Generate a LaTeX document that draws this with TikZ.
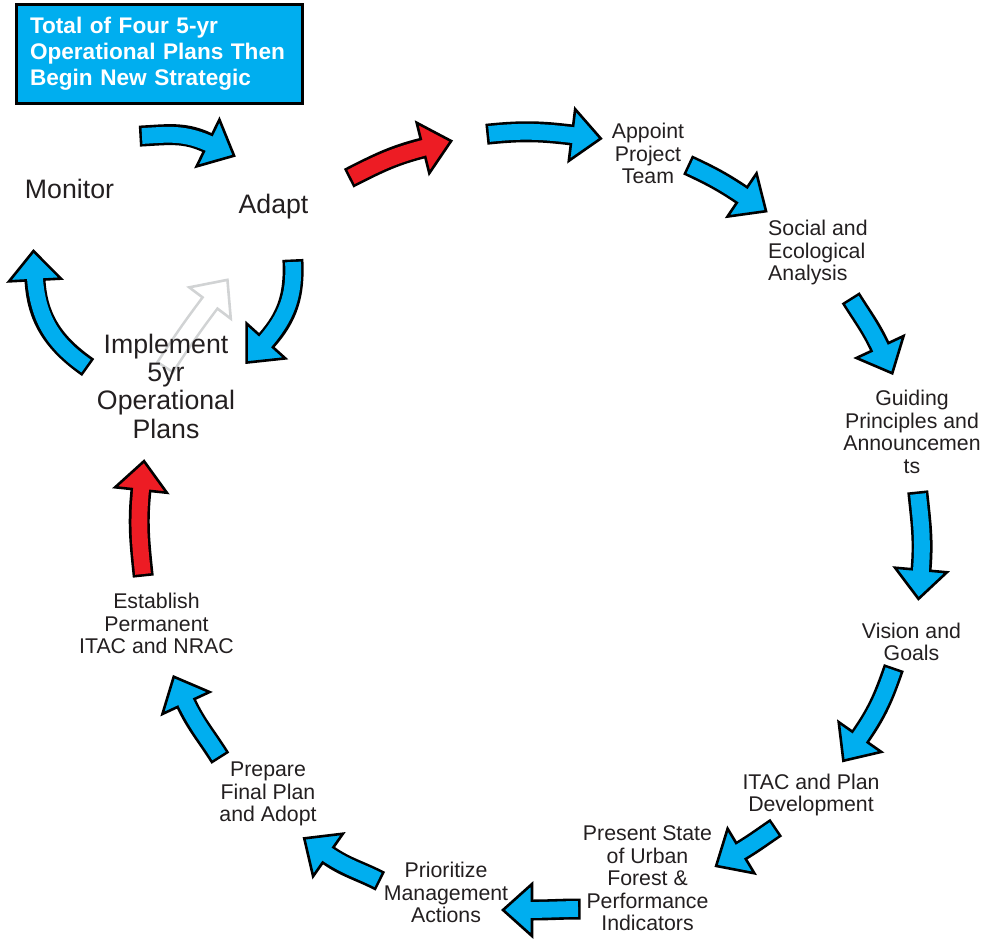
\documentclass[tikz,border=0pt]{standalone}
\usepackage{fontspec}
\setmainfont{Liberation Sans}
\usetikzlibrary{decorations.markings}
\definecolor{arrblue}{HTML}{00AEEF}
\definecolor{arrred}{HTML}{ED1C24}
\definecolor{ghost}{HTML}{D1D3D4}
\definecolor{ink}{HTML}{231F20}
\tikzset{headmark/.style 2 args={decoration={markings,
  mark=at position 1 with {\filldraw[fill=#1,draw=#2,line width=2.6pt,
    line join=miter,shorten <=0pt,shorten >=0pt]
    (0,26) -- (29,0) -- (0,-26) -- cycle;}},postaction={decorate}},
  lbl/.style={text=ink,inner sep=0pt,align=center,
    font=\fontsize{21.3}{22.5}\selectfont},
  biglbl/.style={text=ink,inner sep=0pt,align=center,
    font=\fontsize{26.7}{28.3}\selectfont}}
% block arrow: fill, edge, path
\newcommand{\blockarr}[3]{%
  \draw[#2,line width=21pt,shorten <=-2.6pt,headmark={#1}{#2}] #3;
  \draw[#1,line width=15.8pt,shorten >=-6pt] #3;}

\begin{document}
\begin{tikzpicture}[x=1pt,y=1pt]
  \useasboundingbox (0,0) rectangle (991,-941);
  % arrow ends
  \coordinate (a1) at (142,-136);  \coordinate (b1) at (208,-143);
  \coordinate (a2) at (351,-177);  \coordinate (b2) at (423,-148);
  \coordinate (a3) at (489,-134);  \coordinate (b3) at (572,-135);
  \coordinate (a4) at (690,-166);  \coordinate (b4) at (742,-195);
  \coordinate (a5) at (852,-300);  \coordinate (b5) at (880,-347);
  \coordinate (a6) at (918,-494);  \coordinate (b6) at (921,-570);
  \coordinate (a7) at (893,-670);  \coordinate (b7) at (860,-737);
  \coordinate (a8) at (774,-829);  \coordinate (b8) at (741,-851);
  \coordinate (a9) at (578,-909);  \coordinate (b9) at (532,-910);
  \coordinate (a10) at (378,-880); \coordinate (b10) at (328,-855);
  \coordinate (a11) at (219,-756); \coordinate (b11) at (186,-703);
  \coordinate (a12) at (143,-574); \coordinate (b12) at (141,-490);
  \coordinate (a13) at (86,-366);  \coordinate (b13) at (35,-280);
  \coordinate (a14) at (293,-262); \coordinate (b14) at (266,-341);
  \coordinate (a15) at (166,-366); \coordinate (b15) at (210,-303);

  \blockarr{white}{ghost}{(a15) to[out=57,in=-127] (b15)}
  \blockarr{arrblue}{black}{(a1) to[out=3,in=154] (b1)}
  \blockarr{arrred}{black}{(a2) to[out=27,in=194] (b2)}
  \blockarr{arrblue}{black}{(a3) to[out=6,in=173] (b3)}
  \blockarr{arrblue}{black}{(a4) to[out=-25,in=146] (b4)}
  \blockarr{arrblue}{black}{(a5) to[out=-58,in=115] (b5)}
  \blockarr{arrblue}{black}{(a6) to[out=-84,in=85] (b6)}
  \blockarr{arrblue}{black}{(a7) to[out=-109,in=55] (b7)}
  \blockarr{arrblue}{black}{(a8) to[out=-146,in=31] (b8)}
  \blockarr{arrblue}{black}{(a9) to[out=180,in=0] (b9)}
  \blockarr{arrblue}{black}{(a10) to[out=153,in=-35] (b10)}
  \blockarr{arrblue}{black}{(a11) to[out=122,in=-65] (b11)}
  \blockarr{arrred}{black}{(a12) to[out=96,in=-96] (b12)}
  \blockarr{arrblue}{black}{(a13) to[out=145,in=-87] (b13)}
  \blockarr{arrblue}{black}{(a14) to[out=-87,in=48] (b14)}

  \node[draw=black,line width=3pt,fill=arrblue,text=white,
    minimum width=286pt,minimum height=99pt,text width=258pt,
    inner xsep=14pt,align=left,font=\bfseries\fontsize{22.6}{25.8}\selectfont]
    (goal) at (159,-54) {Total of Four 5-yr\\Operational Plans Then\\Begin New Strategic};

  \node[biglbl] (monitor) at (69.5,-188.5) {Monitor};
  \node[biglbl] (adapt) at (273.5,-206.8) {Adapt};
  \node[biglbl] (impl) at (166,-386.3) {Implement\\5yr\\Operational\\Plans};
  \node[lbl] (appoint) at (648,-153.6) {Appoint\\Project\\Team};
  \node[lbl,align=left,anchor=west] (social) at (768,-252.5) {Social and\\Ecological\\Analysis};
  \node[lbl] (guiding) at (912,-432) {Guiding\\Principles and\\Announcemen\\ts};
  \node[lbl] (vision) at (911.5,-641.8) {Vision and\\Goals};
  \node[lbl] (itac) at (811,-794.8) {ITAC and Plan\\Development};
  \node[lbl] (present) at (647.5,-878.5) {Present State\\of Urban\\Forest \&\\Performance\\Indicators};
  \node[lbl] (prior) at (446,-892.5) {Prioritize\\Management\\Actions};
  \node[lbl] (prepare) at (268,-794) {Prepare\\Final Plan\\and Adopt};
  \node[lbl] (establish) at (156.5,-623.5) {Establish\\Permanent\\ITAC and NRAC};
\end{tikzpicture}
\end{document}
